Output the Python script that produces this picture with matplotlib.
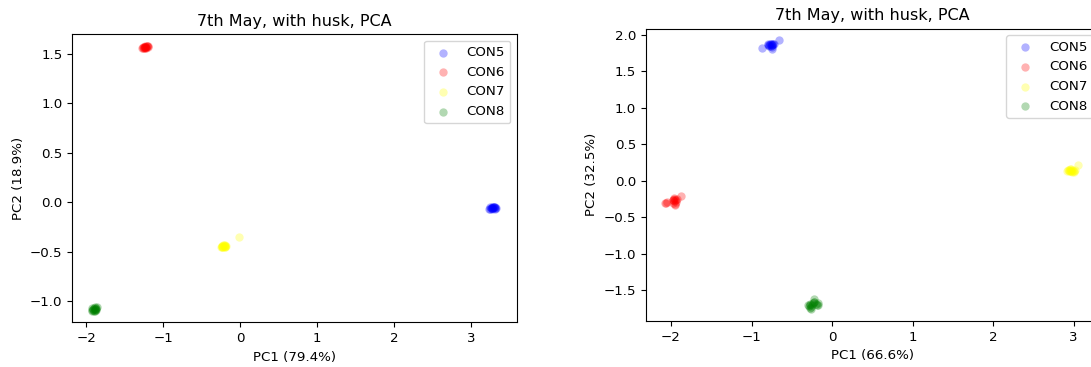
import matplotlib
matplotlib.use("Agg")
import matplotlib.pyplot as plt

labels = ["CON5", "CON6", "CON7", "CON8"]
colors = ["blue", "red", "yellow", "green"]

# ---- left panel data (PC1 79.4%, PC2 18.9%) ----
l_con5_x = [3.24, 3.25, 3.26, 3.27, 3.28, 3.29, 3.30, 3.31, 3.32, 3.33, 3.25, 3.27, 3.29, 3.31, 3.28, 3.30]
l_con5_y = [-0.07, -0.065, -0.06, -0.06, -0.055, -0.05, -0.05, -0.05, -0.055, -0.06, -0.05, -0.045, -0.06, -0.065, -0.065, -0.045]
l_con6_x = [-1.27, -1.26, -1.25, -1.24, -1.23, -1.22, -1.21, -1.20, -1.26, -1.24, -1.22, -1.20, -1.25, -1.23, -1.21, -1.24]
l_con6_y = [1.555, 1.56, 1.56, 1.565, 1.565, 1.57, 1.575, 1.58, 1.57, 1.555, 1.56, 1.57, 1.565, 1.575, 1.58, 1.57]
l_con7_x = [-0.25, -0.24, -0.23, -0.22, -0.21, -0.20, -0.19, -0.18, -0.24, -0.22, -0.20, -0.19, -0.23, -0.21, -0.19, -0.01]
l_con7_y = [-0.45, -0.44, -0.455, -0.45, -0.44, -0.445, -0.435, -0.44, -0.455, -0.435, -0.45, -0.445, -0.44, -0.43, -0.45, -0.355]
l_con8_x = [-1.93, -1.92, -1.91, -1.90, -1.89, -1.88, -1.87, -1.86, -1.92, -1.90, -1.88, -1.87, -1.91, -1.89, -1.87, -1.89]
l_con8_y = [-1.10, -1.09, -1.085, -1.10, -1.08, -1.09, -1.075, -1.065, -1.075, -1.07, -1.10, -1.085, -1.095, -1.06, -1.09, -1.08]

# ---- right panel data (PC1 66.6%, PC2 32.5%) ----
r_con5_x = [-0.87, -0.80, -0.79, -0.78, -0.77, -0.76, -0.75, -0.74, -0.73, -0.72, -0.78, -0.76, -0.74, -0.75, -0.74, -0.66]
r_con5_y = [1.82, 1.86, 1.87, 1.86, 1.87, 1.88, 1.86, 1.87, 1.88, 1.87, 1.85, 1.85, 1.86, 1.81, 1.84, 1.93]
r_con6_x = [-2.07, -2.06, -1.98, -1.97, -1.96, -1.95, -1.94, -1.96, -1.95, -1.97, -1.93, -1.95, -1.94, -1.96, -1.87, -2.05]
r_con6_y = [-0.305, -0.31, -0.27, -0.26, -0.25, -0.26, -0.27, -0.28, -0.32, -0.30, -0.25, -0.33, -0.29, -0.24, -0.215, -0.29]
r_con7_x = [2.92, 2.93, 2.94, 2.95, 2.96, 2.97, 2.98, 2.99, 3.00, 3.01, 2.94, 2.96, 2.98, 3.00, 2.95, 3.05]
r_con7_y = [0.14, 0.15, 0.13, 0.16, 0.14, 0.13, 0.15, 0.14, 0.12, 0.15, 0.15, 0.16, 0.12, 0.13, 0.14, 0.21]
r_con8_x = [-0.30, -0.29, -0.28, -0.27, -0.26, -0.25, -0.24, -0.22, -0.20, -0.18, -0.17, -0.28, -0.26, -0.23, -0.19, -0.23]
r_con8_y = [-1.70, -1.72, -1.69, -1.74, -1.76, -1.70, -1.68, -1.67, -1.69, -1.68, -1.70, -1.71, -1.73, -1.66, -1.71, -1.62]

title = "7th May, with husk, PCA"
left_xlabel, left_ylabel = "PC1 (79.4%)", "PC2 (18.9%)"
right_xlabel, right_ylabel = "PC1 (66.6%)", "PC2 (32.5%)"

FS = 9.6
plt.rcParams["font.family"] = "DejaVu Sans"
plt.rcParams["axes.linewidth"] = 0.8

fig = plt.figure(figsize=(10.91, 3.67), dpi=100)
W, H = 1091.0, 367.0

def add_ax(l, r, t, b):
    return fig.add_axes([l / W, (H - b) / H, (r - l) / W, (b - t) / H])

axL = add_ax(72.3, 517.0, 34.0, 322.3)
axR = add_ax(646.0, 1099.5, 28.7, 321.0)

left_data = [(l_con5_x, l_con5_y), (l_con6_x, l_con6_y), (l_con7_x, l_con7_y), (l_con8_x, l_con8_y)]
right_data = [(r_con5_x, r_con5_y), (r_con6_x, r_con6_y), (r_con7_x, r_con7_y), (r_con8_x, r_con8_y)]

def draw(ax, data, xl, yl, xlim, ylim, yticks):
    for (xs, ys), lab, c in zip(data, labels, colors):
        ax.scatter(xs, ys, s=36, c=c, alpha=0.3, label=lab, linewidths=0)
    ax.set_xlim(*xlim)
    ax.set_ylim(*ylim)
    ax.set_xticks([-2, -1, 0, 1, 2, 3])
    ax.set_yticks(yticks)
    ax.tick_params(labelsize=FS, length=3.5, width=0.8)
    ax.set_xlabel(xl, fontsize=FS)
    ax.set_ylabel(yl, fontsize=FS)
    ax.set_title(title, fontsize=11.5)
    ax.legend(loc="upper right", fontsize=FS)

draw(axL, left_data, left_xlabel, left_ylabel, (-2.18, 3.60), (-1.215, 1.699),
     [-1.0, -0.5, 0.0, 0.5, 1.0, 1.5])
draw(axR, right_data, right_xlabel, right_ylabel, (-2.31, 3.32), (-1.925, 2.086),
     [-1.5, -1.0, -0.5, 0.0, 0.5, 1.0, 1.5, 2.0])

fig.savefig("out.png", dpi=100)
